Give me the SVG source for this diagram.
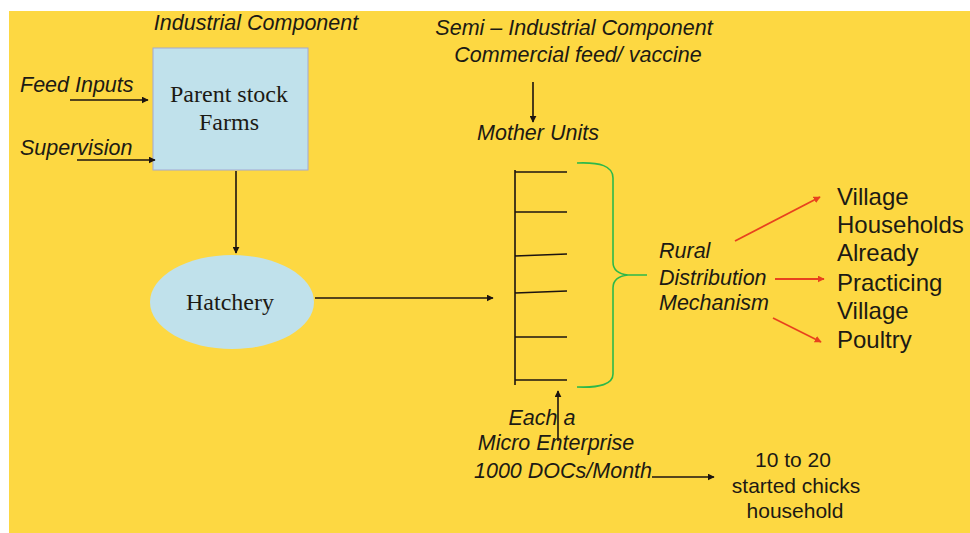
<svg xmlns="http://www.w3.org/2000/svg" width="970" height="533" viewBox="0 0 970 533">
<style>
text{font-family:"Liberation Sans",Arial,sans-serif;fill:#1c1a14}
.it{font-style:italic;font-size:21.5px}
.serif{font-family:"Liberation Serif","Times New Roman",serif;font-size:24px}
.pl{font-size:24px}
.sm{font-size:21px}
.ln{stroke:#1c1410;stroke-width:1.6;fill:none}
.red{stroke:#E8421E;stroke-width:1.8;fill:none}
</style>
<defs>
<marker id="ah" viewBox="0 0 10 10" refX="9" refY="5" markerWidth="7" markerHeight="7" markerUnits="userSpaceOnUse" orient="auto"><path d="M0,0 L10,5 L0,10 z" fill="#1c1410"/></marker>
<marker id="ahr" viewBox="0 0 10 10" refX="9" refY="5" markerWidth="7" markerHeight="7" markerUnits="userSpaceOnUse" orient="auto"><path d="M0,0 L10,5 L0,10 z" fill="#E8421E"/></marker>
</defs>
<rect x="0" y="0" width="970" height="533" fill="#ffffff"/>
<rect x="9" y="11" width="961" height="522" fill="#FDD842"/>

<g id="industrial-label"><text class="it" x="256" y="30" text-anchor="middle">Industrial Component</text></g>
<g id="feed-inputs"><text class="it" x="20" y="92">Feed Inputs</text></g>
<g id="supervision"><text class="it" x="20" y="155">Supervision</text></g>

<g id="parent-stock">
<rect x="153" y="48" width="155" height="122" fill="#C0E1EB" stroke="#A3A8D2" stroke-width="1"/>
<text class="serif" x="229" y="102" text-anchor="middle">Parent stock</text>
<text class="serif" x="229" y="130" text-anchor="middle">Farms</text>
</g>

<g id="hatchery">
<ellipse cx="232" cy="302" rx="82" ry="47" fill="#C0E1EB"/>
<text class="serif" x="230" y="310" text-anchor="middle">Hatchery</text>
</g>

<g id="semi-industrial">
<text class="it" x="574" y="35" text-anchor="middle">Semi – Industrial Component</text>
<text class="it" x="578" y="62" text-anchor="middle">Commercial feed/ vaccine</text>
</g>
<g id="mother-units"><text class="it" x="538" y="140" text-anchor="middle">Mother Units</text></g>

<g id="units-comb">
<path class="ln" d="M515,170 V385 M515,172 H567 M515,212 H567 M515,256 L567,254 M515,293 L567,291 M515,337 H567 M515,380 H567"/>
<path d="M577,163 C600,162 613,166 613,178 L613,262 C613,270 618,274 628,275 L647,275 M628,275 C618,276 613,280 613,288 L613,374 C613,384 600,388 577,387" fill="none" stroke="#2DB84A" stroke-width="1.6"/>
</g>

<g id="rural-distribution">
<text class="it" x="659" y="258">Rural</text>
<text class="it" x="659" y="285">Distribution</text>
<text class="it" x="659" y="310">Mechanism</text>
</g>

<g id="village-households">
<text class="pl" x="837" y="205">Village</text>
<text class="pl" x="837" y="233">Households</text>
<text class="pl" x="837" y="261">Already</text>
<text class="pl" x="837" y="291">Practicing</text>
<text class="pl" x="837" y="319">Village</text>
<text class="pl" x="837" y="348">Poultry</text>
</g>

<g id="micro-enterprise">
<text class="it" x="542" y="425" text-anchor="middle">Each a</text>
<text class="it" x="556" y="450" text-anchor="middle">Micro Enterprise</text>
<text class="it" x="563" y="478" text-anchor="middle">1000 DOCs/Month</text>
</g>

<g id="started-chicks">
<text class="sm" x="793" y="467" text-anchor="middle">10 to 20</text>
<text class="sm" x="796" y="493" text-anchor="middle">started chicks</text>
<text class="sm" x="795" y="518" text-anchor="middle">household</text>
</g>

<g id="connectors">
<line class="ln" x1="70" y1="100" x2="148" y2="100" marker-end="url(#ah)"/>
<line class="ln" x1="77" y1="160" x2="155" y2="160" marker-end="url(#ah)"/>
<line class="ln" x1="236" y1="171" x2="236" y2="253" marker-end="url(#ah)"/>
<line class="ln" x1="315" y1="298" x2="493" y2="298" marker-end="url(#ah)"/>
<line class="ln" x1="533" y1="82" x2="533" y2="122" marker-end="url(#ah)"/>
<line class="ln" x1="558" y1="441" x2="558" y2="391" marker-end="url(#ah)"/>
<line class="ln" x1="652" y1="477" x2="714" y2="477" marker-end="url(#ah)"/>
<line class="red" x1="735" y1="241" x2="820" y2="197" marker-end="url(#ahr)"/>
<line class="red" x1="775" y1="279" x2="824" y2="279" marker-end="url(#ahr)"/>
<line class="red" x1="773" y1="318" x2="821" y2="342" marker-end="url(#ahr)"/>
</g>
</svg>
